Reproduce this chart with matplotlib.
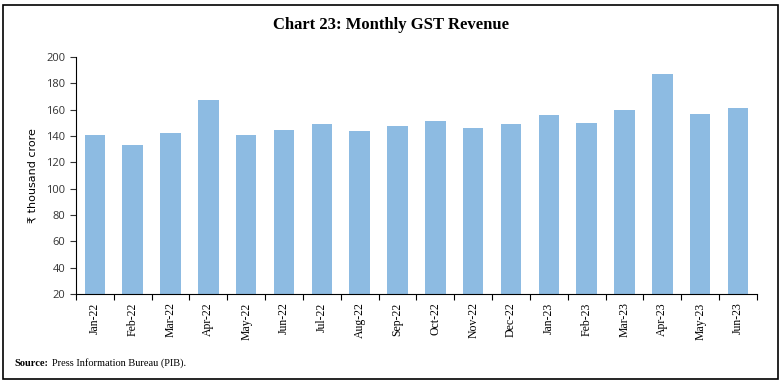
import matplotlib.pyplot as plt
import numpy as np
from matplotlib.patches import Rectangle

months = ["Jan-22", "Feb-22", "Mar-22", "Apr-22", "May-22", "Jun-22", "Jul-22", "Aug-22", "Sep-22",
          "Oct-22", "Nov-22", "Dec-22", "Jan-23", "Feb-23", "Mar-23", "Apr-23", "May-23", "Jun-23"]
revenue = [140.9, 133.0, 142.1, 167.5, 140.9, 144.6, 148.9, 143.6, 147.7,
           151.7, 145.9, 149.5, 155.9, 149.6, 160.1, 187.0, 157.1, 161.5]

fig = plt.figure(figsize=(7.82, 3.85), dpi=100)
ax = fig.add_axes([0.097, 0.236, 0.871, 0.616])

x = np.arange(len(months))
ax.bar(x, revenue, width=0.54, color="#8DBBE2", zorder=2)

ax.set_xlim(-0.5, len(months) - 0.5)
ax.set_ylim(20, 200)
ax.set_yticks(range(20, 201, 20))
ax.tick_params(axis="y", labelsize=8, length=4, width=0.8, colors="#333333")
for lab in ax.get_yticklabels():
    lab.set_family(["Open Sans", "DejaVu Sans"])

# ticks sit on the category boundaries, labels in the middle
ax.set_xticks(np.arange(-0.5, len(months), 1.0))
ax.set_xticklabels([])
ax.set_xticks(x, minor=True)
ax.set_xticklabels(months, minor=True, rotation=90, fontsize=8.5, family="Liberation Serif")
ax.tick_params(axis="x", which="major", length=4, width=0.8)
ax.tick_params(axis="x", which="minor", length=0, pad=6)

for s in ["top", "right"]:
    ax.spines[s].set_visible(False)
for s in ["left", "bottom"]:
    ax.spines[s].set_linewidth(0.8)

ax.set_ylabel("₹ thousand crore", fontsize=8, family=["DejaVu Sans"], labelpad=6)

fig.text(0.5, 0.935, "Chart 23: Monthly GST Revenue", ha="center", va="center",
         fontsize=12, family="Liberation Serif", weight="bold")
fig.text(0.019, 0.057, "Source:", fontsize=7.5, family="Liberation Serif", weight="bold", va="center")
fig.text(0.067, 0.057, "Press Information Bureau (PIB).", fontsize=7.5, family="Liberation Serif", va="center")

fig.patches.append(Rectangle((0.004, 0.016), 0.991, 0.97, transform=fig.transFigure,
                             fill=False, edgecolor="black", linewidth=1.2))

fig.savefig("out.png", dpi=100)
